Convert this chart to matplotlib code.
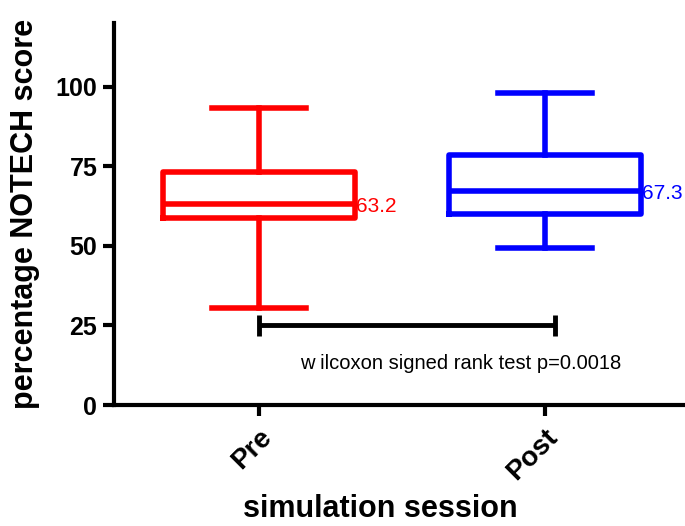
import matplotlib
matplotlib.use("Agg")
import matplotlib.pyplot as plt

plt.rcParams['font.family'] = ['Liberation Sans', 'DejaVu Sans']

# Box-plot summaries of the NOTECH scores per session
sessions = ["Pre", "Post"]
whisker_low = [30.5, 49.3]
quartile_1 = [58.8, 60.1]
medians = [63.2, 67.3]
quartile_3 = [73.1, 78.6]
whisker_high = [93.4, 98.0]
colors = ["#ff0000", "#0000ff"]
y_ticks = [0, 25, 50, 75, 100]
p_value_text = "w ilcoxon signed rank test p=0.0018"
bracket_level = 25

fig = plt.figure(figsize=(6.85, 5.26), dpi=100)
ax = fig.add_axes([0.1664, 0.23, 0.8336, 0.726])

positions = [1, 2]
for i, name in enumerate(sessions):
    stats = [dict(label=name, whislo=whisker_low[i], q1=quartile_1[i],
                  med=medians[i], q3=quartile_3[i], whishi=whisker_high[i])]
    c = colors[i]
    ax.bxp(stats, positions=[positions[i]], widths=0.67, capwidths=0.33,
           showfliers=False, manage_ticks=False,
           boxprops=dict(color=c, linewidth=4),
           whiskerprops=dict(color=c, linewidth=4),
           capprops=dict(color=c, linewidth=4),
           medianprops=dict(color=c, linewidth=4))
    ax.text(positions[i] + 0.34, medians[i] - 0.8, f"{medians[i]:.1f}",
            color=c, fontsize=15, va="center", ha="left")

# significance bracket between the two sessions
x0, x1 = 1.0, 2.035
ax.plot([x0, x1], [bracket_level, bracket_level], color="black", lw=3.5,
        solid_capstyle="butt")
for xb in (x0, x1):
    ax.plot([xb, xb], [bracket_level - 3.2, bracket_level + 3.2],
            color="black", lw=3.5, solid_capstyle="butt")
ax.text(1.143, 13.2, p_value_text, fontsize=14.5, va="center", ha="left")

ax.set_xlim(0.493, 2.49)
ax.set_ylim(0, 120)
ax.set_yticks(y_ticks)
ax.set_xticks(positions)
ax.set_xticklabels(sessions, rotation=45, ha="right", rotation_mode="anchor",
                   fontsize=20, fontweight="bold")
for lbl in ax.get_yticklabels():
    lbl.set_fontsize(18)
    lbl.set_fontweight("bold")

ax.spines["top"].set_visible(False)
ax.spines["right"].set_visible(False)
ax.spines["left"].set_linewidth(3)
ax.spines["bottom"].set_linewidth(3)
ax.tick_params(axis="both", direction="out", length=8, width=3, pad=4)
ax.tick_params(axis="x", pad=6)

ax.set_ylabel("percentage NOTECH score", fontsize=22, fontweight="bold")
ax.yaxis.set_label_coords(-0.13, 0.5)
ax.set_xlabel("simulation session", fontsize=22, fontweight="bold")
ax.xaxis.set_label_coords(0.466, -0.232)

fig.savefig("out.png", dpi=100)
